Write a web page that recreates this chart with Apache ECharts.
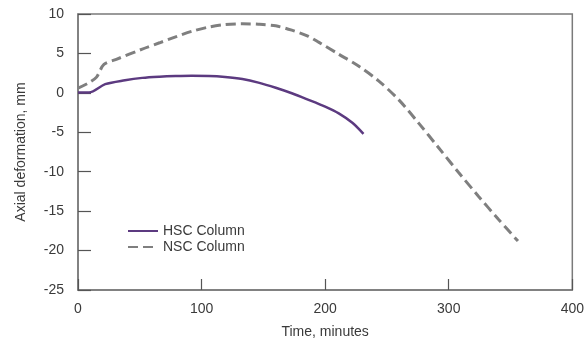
<!DOCTYPE html>
<html>
<head>
<meta charset="utf-8">
<script src="https://cdn.jsdelivr.net/npm/echarts@6/dist/echarts.min.js"></script>
<style>html,body{margin:0;padding:0;background:#fff}#c{width:587px;height:344px}</style>
</head>
<body>
<div id="c"></div>
<script>
const hscTime = [0, 9, 22, 38, 52, 66, 79, 92, 106, 119, 133, 146, 160, 173, 186, 200, 211, 222, 231];
const hscDef  = [0.05, 0.05, 1.1, 1.6, 1.9, 2.05, 2.13, 2.17, 2.15, 2.02, 1.75, 1.3, 0.65, -0.05, -0.85, -1.75, -2.6, -3.8, -5.2];
const nscTime = [0, 9, 15, 21, 31, 52, 66, 79, 92, 106, 119, 133, 146, 160, 173, 186, 195, 211, 227, 243, 260, 276, 292, 308, 324, 340, 356];
const nscDef  = [0.6, 1.3, 2.0, 3.6, 4.25, 5.55, 6.35, 7.1, 7.8, 8.35, 8.65, 8.75, 8.7, 8.5, 7.95, 7.2, 6.4, 4.9, 3.4, 1.55, -0.95, -3.9, -7.0, -10.1, -13.1, -16.0, -18.8];
const seriesNames = ['HSC Column', 'NSC Column'];
const xTicks = [0, 100, 200, 300, 400];
const yTicks = [-25, -20, -15, -10, -5, 0, 5, 10];

const pair = (t, v) => t.map((x, i) => [x, v[i]]);
const axisCol = '#7a7a7a';
const txtCol = '#3a3a3a';
const font = 'Liberation Sans, Arial, sans-serif';

const chart = echarts.init(document.getElementById('c'), null, {renderer: 'canvas'});
chart.setOption({
  animation: false,
  backgroundColor: '#fff',
  grid: {left: 78, top: 14, right: 13, bottom: 54, show: true, borderColor: axisCol, borderWidth: 1.5, backgroundColor: 'transparent'},
  legend: {
    orient: 'vertical', left: 122, top: 219, itemGap: 2, itemWidth: 30, itemHeight: 14,
    itemStyle: {opacity: 0},
    textStyle: {fontSize: 14, color: txtCol, fontFamily: font},
    data: seriesNames
  },
  xAxis: {
    type: 'value', min: xTicks[0], max: xTicks[xTicks.length - 1], interval: 100,
    name: 'Time, minutes', nameLocation: 'middle', nameGap: 35,
    nameTextStyle: {fontSize: 14, color: txtCol, fontFamily: font},
    axisLine: {show: true, onZero: false, lineStyle: {color: axisCol, width: 1.5}},
    axisTick: {show: true, inside: true, length: 11, lineStyle: {color: '#555', width: 1.2}},
    axisLabel: {fontSize: 14, color: txtCol, fontFamily: font, margin: 12},
    splitLine: {show: false}
  },
  yAxis: {
    type: 'value', min: yTicks[0], max: yTicks[yTicks.length - 1], interval: 5,
    name: 'Axial deformation, mm', nameLocation: 'middle', nameGap: 50, nameRotate: 90,
    nameTextStyle: {fontSize: 14, color: txtCol, fontFamily: font},
    axisLine: {show: true, onZero: false, lineStyle: {color: axisCol, width: 1.5}},
    axisTick: {show: true, inside: true, length: 13, lineStyle: {color: '#555', width: 1.2}},
    axisLabel: {fontSize: 14, color: txtCol, fontFamily: font, margin: 14},
    splitLine: {show: false}
  },
  series: [
    {
      name: seriesNames[0], type: 'line', data: pair(hscTime, hscDef), smooth: 0.3,
      symbol: 'none', showSymbol: false,
      lineStyle: {color: '#5c3a80', width: 2.5},
      itemStyle: {color: '#5c3a80'}
    },
    {
      name: seriesNames[1], type: 'line', data: pair(nscTime, nscDef), smooth: 0.3,
      symbol: 'none', showSymbol: false,
      lineStyle: {color: '#7f7f7f', width: 3, type: [10, 5]},
      itemStyle: {color: '#7f7f7f'}
    }
  ]
});
</script>
</body>
</html>
